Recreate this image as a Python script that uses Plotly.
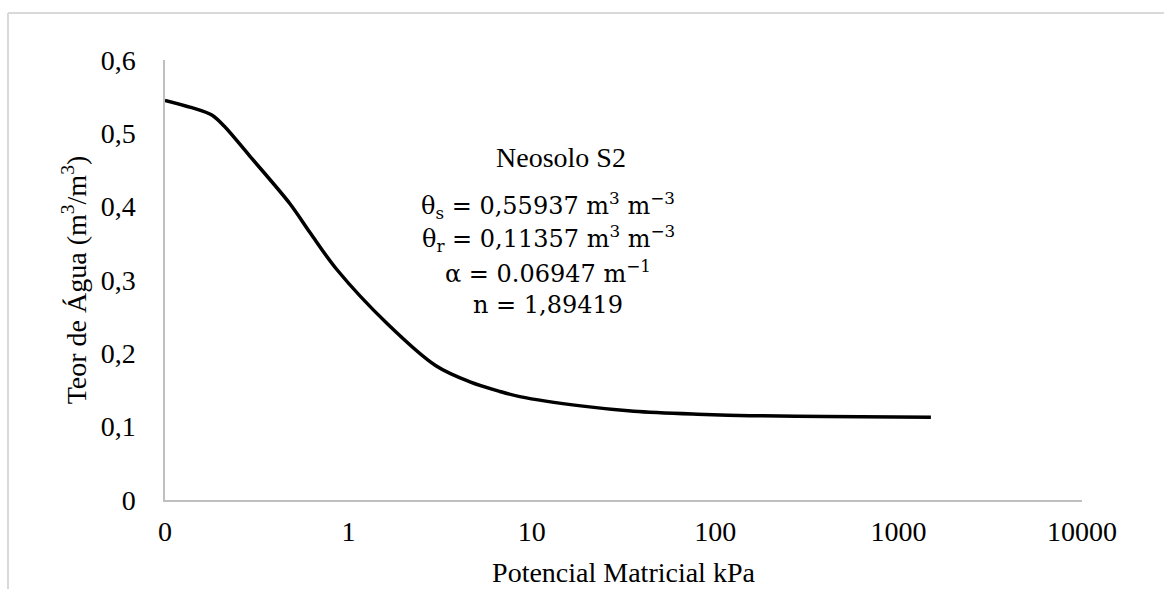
import plotly.graph_objects as go

# Retention curve: matric potential (kPa) vs volumetric water content
potencial_kpa = [0.1, 0.14, 0.18, 0.21, 0.29, 0.48, 0.62, 0.86, 1.62, 3.0,
                 4.6, 6.7, 8.6, 19, 36, 80, 155, 400, 1500]
teor_agua = [0.545, 0.535, 0.525, 0.510, 0.469, 0.404, 0.364, 0.315, 0.241, 0.183,
             0.161, 0.148, 0.141, 0.128, 0.121, 0.117, 0.115, 0.114, 0.113]

x_tickvals = [0.1, 1, 10, 100, 1000, 10000]
x_ticktext = ["0", "1", "10", "100", "1000", "10000"]
y_tickvals = [0, 0.1, 0.2, 0.3, 0.4, 0.5, 0.6]
y_ticktext = ["0", "0,1", "0,2", "0,3", "0,4", "0,5", "0,6"]

titulo = "Neosolo S2"
parametros = [
    "θ<sub>s</sub> = 0,55937 m<sup>3</sup> m<sup>−3</sup>",
    "θ<sub>r</sub> = 0,11357 m<sup>3</sup> m<sup>−3</sup>",
    "α = 0.06947 m<sup>−1</sup>",
    "n = 1,89419",
]

W, H = 1164, 589
L, R, T, B = 165, 82, 60, 89
pw, ph = W - L - R, H - T - B


def px_x(px):
    return (px - L) / pw


def px_y(py):
    return (H - B - py) / ph


serif = "Liberation Serif, Times New Roman, serif"
math_font = "DejaVu Serif, serif"
axis_grey = "#bfbfbf"
frame_grey = "#d9d9d9"

fig = go.Figure()
fig.add_trace(go.Scatter(
    x=potencial_kpa, y=teor_agua, mode="lines",
    line=dict(color="black", width=3.5, shape="spline", smoothing=0.9),
    showlegend=False, hoverinfo="skip",
))

fig.update_layout(
    width=W, height=H,
    margin=dict(l=L, r=R, t=T, b=B, autoexpand=False),
    paper_bgcolor="white", plot_bgcolor="white",
    font=dict(family=serif, size=28, color="black"),
    xaxis=dict(
        type="log", range=[-1, 4],
        tickmode="array", tickvals=x_tickvals, ticktext=x_ticktext,
        showgrid=False, zeroline=False,
        showline=True, linecolor=axis_grey, linewidth=1.5,
        ticks="", ticklabelstandoff=6,
        tickfont=dict(family=serif, size=28, color="black"),
        title=dict(text="Potencial Matricial kPa", standoff=16,
                   font=dict(family=serif, size=28, color="black")),
    ),
    yaxis=dict(
        range=[0, 0.6],
        tickmode="array", tickvals=y_tickvals, ticktext=y_ticktext,
        showgrid=False, zeroline=False,
        showline=True, linecolor=axis_grey, linewidth=1.5,
        ticks="", ticklabelstandoff=22,
        tickfont=dict(family=serif, size=28, color="black"),
        title=dict(text="Teor de Água (m<sup>3</sup>/m<sup>3</sup>)", standoff=6,
                   font=dict(family=serif, size=28, color="black")),
    ),
)

# Outer chart frame (top and left edges)
fig.add_shape(type="line", xref="paper", yref="paper",
              x0=px_x(8), x1=px_x(W + 5), y0=px_y(13), y1=px_y(13),
              line=dict(color=frame_grey, width=2))
fig.add_shape(type="line", xref="paper", yref="paper",
              x0=px_x(8), x1=px_x(8), y0=px_y(13), y1=px_y(H + 5),
              line=dict(color=frame_grey, width=2))

fig.add_annotation(text=titulo, xref="paper", yref="paper",
                   x=px_x(561), y=px_y(157), xanchor="center", yanchor="middle",
                   showarrow=False, font=dict(family=serif, size=28, color="black"))

linha_y = [205, 238, 272, 305]
for texto, py in zip(parametros, linha_y):
    fig.add_annotation(text=texto, xref="paper", yref="paper",
                       x=px_x(548), y=px_y(py), xanchor="center", yanchor="middle",
                       showarrow=False, font=dict(family=math_font, size=24, color="black"))

fig.write_html("out.html")
